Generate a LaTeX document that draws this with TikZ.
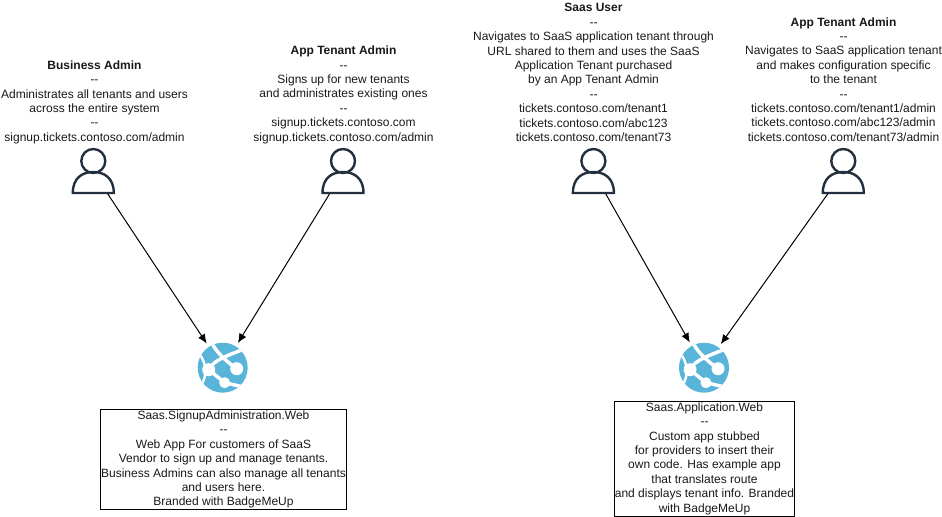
\documentclass[tikz,border=0pt]{standalone}
\usepackage{fontspec}
\usetikzlibrary{arrows.meta}
\setmainfont{Liberation Sans}
\definecolor{usrcol}{HTML}{232F3E}
\definecolor{webcol}{HTML}{59B4D9}
\newcommand{\dsh}{-{}-}
\begin{document}
\begin{tikzpicture}[x=0.75pt, y=-0.75pt, >={Latex[length=7pt,width=6pt]},
          font=\fontsize{9}{10.8}\selectfont,
          txt/.style={align=center, inner sep=0pt, text=black!90},
          usr/.style={minimum width=31.5pt, minimum height=33pt, inner sep=0pt, outer sep=0pt},
          webapp/.style={circle, fill=webcol, minimum size=37.5pt, inner sep=0pt, outer sep=3pt,
            path picture={
              \begin{scope}[shift={(path picture bounding box.center)}, draw=white, line width=2.6pt]
                \draw (-11,-25) .. controls (-7,-17) and (0,-9) .. (14,1);
                \draw[line width=1.8pt] (-22,-12) .. controls (-17,-4) and (-15,6) .. (-21,17);
                \draw (-14,2) .. controls (-9,-8) and (5,-12) .. (22,-19);
                \draw (-14,2) -- (2,15) -- (24,20);
                \fill[white] (-14,2) circle[radius=6.5];
                \fill[white] (14,1) circle[radius=6.5];
                \fill[white] (2,15) circle[radius=5.5];
              \end{scope}
            }},
          box/.style={draw, align=center, inner sep=0pt, text=black!90},
          arr/.style={->, line width=0.75pt},
          usrpic/.pic={
            \draw[usrcol, line width=1.8pt] (0,-11) circle[radius=12];
            \draw[usrcol, line width=1.8pt] (-20.5,21) .. controls (-20.5,6) and (-11,0) .. (0,0)
              .. controls (11,0) and (20.5,6) .. (20.5,21) -- cycle;
          }]
        \useasboundingbox (0,0) rectangle (942,517);
        \node[usr] (ba) at (93.3,172) {};
        \node[usr] (ta1) at (343,172) {};
        \node[usr] (su) at (593.4,172) {};
        \node[usr] (ta2) at (843.3,172) {};
        \foreach \nm in {ba,ta1,su,ta2} {
          \pic at (\nm) {usrpic};
        }
        \node[webapp] (web1) at (222.7,367.7) {};
        \node[webapp] (web2) at (704,367.7) {};
        \node[txt] (balbl) at (94.5,102.2) {\textbf{Business Admin}\\\dsh\\Administrates all tenants and users\\across the entire system\\\dsh\\signup.tickets.contoso.com/admin};
        \node[txt] (ta1lbl) at (343.5,94.7) {\textbf{App Tenant Admin}\\\dsh\\Signs up for new tenants\\and administrates existing ones\\\dsh\\signup.tickets.contoso.com\\signup.tickets.contoso.com/admin};
        \node[txt] (sulbl) at (593.5,72.5) {\textbf{Saas User}\\\dsh\\Navigates to SaaS application tenant through\\URL shared to them and uses the SaaS\\Application Tenant purchased\\by an App Tenant Admin\\\dsh\\tickets.contoso.com/tenant1\\tickets.contoso.com/abc123\\tickets.contoso.com/tenant73};
        \node[txt] (ta2lbl) at (843.5,79.5) {\textbf{App Tenant Admin}\\\dsh\\Navigates to SaaS application tenant\\and makes configuration specific\\to the tenant\\\dsh\\tickets.contoso.com/tenant1/admin\\tickets.contoso.com/abc123/admin\\tickets.contoso.com/tenant73/admin};
        \node[box, minimum width=184.5pt, minimum height=75pt] (app1) at (223.5,459.5) {Saas.SignupAdministration.Web\\\dsh\\Web App For customers of SaaS\\Vendor to sign up and manage tenants.\\Business Admins can also manage all tenants\\and users here.\\Branded with BadgeMeUp};
        \node[box, minimum width=135pt, minimum height=86.25pt] (app2) at (704.5,458.5) {Saas.Application.Web\\\dsh\\Custom app stubbed\\for providers to insert their\\own code. Has example app\\that translates route\\and displays tenant info. Branded\\with BadgeMeUp};
        \draw[arr] (ba) -- (web1);
        \draw[arr] (ta1) -- (web1);
        \draw[arr] (su) -- (web2);
        \draw[arr] (ta2) -- (web2);
      \end{tikzpicture}
\end{document}
